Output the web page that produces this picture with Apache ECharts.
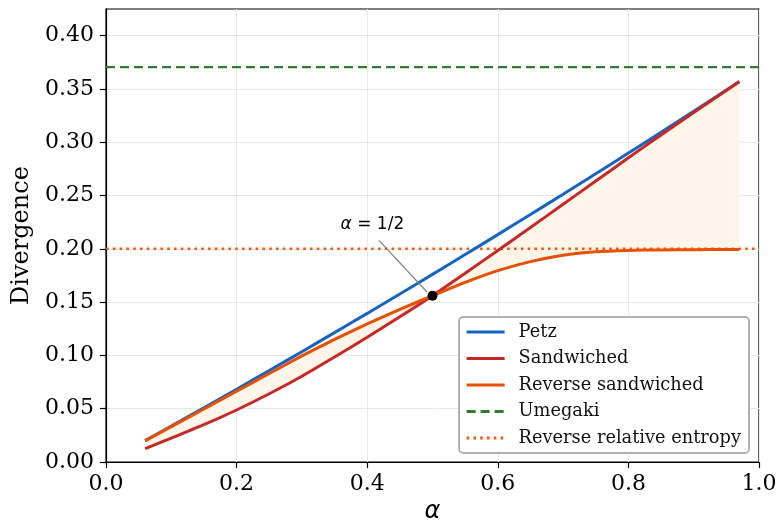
<!DOCTYPE html>
<html>
<head>
<meta charset="utf-8">
<script src="https://cdn.jsdelivr.net/npm/echarts@6/dist/echarts.min.js"></script>
<style>html,body{margin:0;padding:0;background:#fff;}#c{width:779px;height:522px;}</style>
</head>
<body>
<div id="c"></div>
<script>
const alpha = [0.06,0.10,0.15,0.20,0.25,0.30,0.35,0.40,0.45,0.50,0.55,0.60,0.65,0.70,0.75,0.80,0.85,0.90,0.95,0.97];
const petz = [0.0200,0.0337,0.0509,0.0683,0.0858,0.1035,0.1214,0.1394,0.1576,0.1760,0.1946,0.2133,0.2322,0.2512,0.2704,0.2898,0.3093,0.3290,0.3489,0.3570];
const sandwiched = [0.0125,0.0225,0.0350,0.0488,0.0640,0.0805,0.0985,0.1170,0.1362,0.1560,0.1770,0.1985,0.2200,0.2418,0.2636,0.2854,0.3068,0.3278,0.3486,0.3570];
const reverseSandwiched = [0.0200,0.0332,0.0497,0.0665,0.0830,0.0995,0.1150,0.1295,0.1432,0.1560,0.1685,0.1795,0.1880,0.1940,0.1972,0.1985,0.1990,0.1992,0.1993,0.1993];
const umegaki = 0.3705;
const reverseRelEntropy = 0.20;
const xRange = [0, 1];
const halfPoint = [0.5, 0.156];
const annotText = [0.408, 0.2225];
const annotArrow = [[0.418, 0.208], [0.4916, 0.1595]];
const yTicks = [0, 0.05, 0.10, 0.15, 0.20, 0.25, 0.30, 0.35, 0.40];

const pair = (xs, ys) => xs.map((x, i) => [x, ys[i]]);

const serif = "'DejaVu Serif', serif";
const sans = "'DejaVu Sans', sans-serif";
const chart = echarts.init(document.getElementById('c'), null, {renderer: 'canvas'});
chart.setOption({
  animation: false,
  backgroundColor: '#fff',
  grid: {left: 106, right: 20, top: 9, bottom: 60, show: true, borderColor: '#000', borderWidth: 1.2, backgroundColor: 'transparent', containLabel: false, outerBoundsMode: 'none'},
  xAxis: {
    type: 'value', min: 0, max: 1, interval: 0.2,
    name: 'α', nameLocation: 'middle', nameGap: 38,
    nameTextStyle: {fontFamily: sans, fontStyle: 'italic', fontSize: 24, color: '#000'},
    axisLine: {show: true, lineStyle: {color: '#000', width: 1.2}},
    axisTick: {show: true, length: 6, lineStyle: {color: '#000', width: 1.2}},
    axisLabel: {fontFamily: serif, fontSize: 22, color: '#000', margin: 11, formatter: v => v.toFixed(1)},
    splitLine: {show: true, lineStyle: {color: '#e8e8e8', width: 1}}
  },
  yAxis: {
    type: 'value', min: 0, max: 0.425, interval: 0.05,
    name: 'Divergence', nameLocation: 'middle', nameGap: 72,
    nameTextStyle: {fontFamily: serif, fontSize: 24, color: '#000'},
    axisLine: {show: true, lineStyle: {color: '#000', width: 1.2}},
    axisTick: {show: true, length: 6, lineStyle: {color: '#000', width: 1.2}, customValues: yTicks},
    axisLabel: {fontFamily: serif, fontSize: 22, color: '#000', margin: 12, customValues: yTicks, formatter: v => v.toFixed(2)},
    splitLine: {show: true, lineStyle: {color: '#e8e8e8', width: 1}}
  },
  legend: {
    orient: 'vertical', right: 30, bottom: 69,
    data: ['Petz', 'Sandwiched', 'Reverse sandwiched', 'Umegaki', 'Reverse relative entropy'],
    backgroundColor: '#fff', borderColor: '#999', borderWidth: 1.5, borderRadius: 4,
    padding: [6, 8, 6, 6], itemGap: 8.5, itemWidth: 38, itemHeight: 14,
    itemStyle: {opacity: 0},
    lineStyle: {width: 3},
    textStyle: {fontFamily: serif, fontSize: 17.8, color: '#111', padding: [0, 0, 0, 9]}
  },
  series: [
    {
      name: 'fill', type: 'custom', silent: true, z: 1,
      data: [[0, 0]],
      renderItem: (params, api) => {
        const fwd = alpha.map((x, i) => api.coord([x, sandwiched[i]]));
        const back = alpha.map((x, i) => api.coord([x, reverseSandwiched[i]])).reverse();
        return {type: 'polygon', shape: {points: fwd.concat(back)}, style: {fill: '#fff5e8', stroke: null}};
      }
    },
    {name: 'Umegaki', type: 'line', data: xRange.map(x => [x, umegaki]), symbol: 'none', color: '#2e7d32', lineStyle: {color: '#2e7d32', width: 2.4, type: [9, 5]}, z: 3},
    {name: 'Reverse relative entropy', type: 'line', data: xRange.map(x => [x, reverseRelEntropy]), symbol: 'none', color: '#ef5a0c', lineStyle: {color: '#ef5a0c', width: 2.6, type: [2.6, 4.2]}, z: 3},
    {name: 'Petz', type: 'line', data: pair(alpha, petz), symbol: 'none', smooth: 0.2, color: '#1565c0', lineStyle: {color: '#1565c0', width: 3}, z: 4},
    {name: 'Sandwiched', type: 'line', data: pair(alpha, sandwiched), symbol: 'none', smooth: 0.2, color: '#c62828', lineStyle: {color: '#c62828', width: 3}, z: 5},
    {name: 'Reverse sandwiched', type: 'line', data: pair(alpha, reverseSandwiched), symbol: 'none', smooth: 0.2, color: '#e65100', lineStyle: {color: '#e65100', width: 3}, z: 6},
    {
      name: 'half', type: 'scatter', data: [halfPoint], symbolSize: 10, itemStyle: {color: '#000', opacity: 1}, z: 10,
      markLine: {
        silent: true, symbol: ['none', 'arrow'], symbolSize: [0, 9], animation: false,
        lineStyle: {color: '#808080', width: 1.2, type: 'solid'}, label: {show: false},
        data: [[{coord: annotArrow[0]}, {coord: annotArrow[1]}]]
      },
      markPoint: {
        silent: true, symbol: 'circle', symbolSize: 0,
        data: [{coord: annotText, label: {show: true, position: 'inside', formatter: '{a|α} = 1/2',
          fontFamily: sans, fontSize: 17, color: '#000',
          rich: {a: {fontFamily: sans, fontStyle: 'italic', fontSize: 17, color: '#000'}}}}]
      }
    }
  ]
});
</script>
</body>
</html>
